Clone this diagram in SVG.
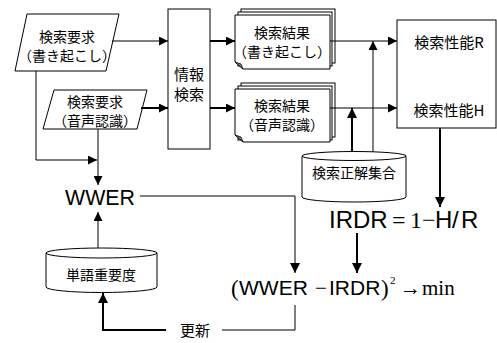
<svg xmlns="http://www.w3.org/2000/svg" width="497" height="343" viewBox="0 0 497 343">
<defs>
<marker id="ah" viewBox="0 0 10 10" refX="10" refY="5" markerWidth="9" markerHeight="9" markerUnits="userSpaceOnUse" orient="auto"><path d="M0,0 L10,5 L0,10 Z" fill="#000"/></marker>
<marker id="ahb" viewBox="0 0 10 10" refX="10" refY="5" markerWidth="10" markerHeight="10" markerUnits="userSpaceOnUse" orient="auto"><path d="M0,0 L10,5 L0,10 Z" fill="#000"/></marker>
</defs>
<style>
.sh{fill:#fff;stroke:#000;stroke-width:1}
.jp{font-family:"Noto Sans CJK JP","Noto Sans",sans-serif;font-size:14px;fill:#000;text-anchor:middle}
.c{fill:none;stroke:#000;stroke-width:1}
.cb{fill:none;stroke:#000;stroke-width:2}
.ar{font-family:"Liberation Sans",Arial,sans-serif;fill:#000}
.tm{font-family:"Liberation Serif","Times New Roman",serif;fill:#000}
</style>
<rect width="497" height="343" fill="#fff"/>
<g id="req1">
<polygon class="sh" points="27,14 119,14 106,71 15,71"/>
<text class="jp" x="67" y="42">検索要求</text>
<text class="jp" x="67" y="61">（書き起こし）</text>
</g>
<g id="req2">
<polygon class="sh" points="54,90 147,90 137,129 43,129"/>
<text class="jp" x="95" y="107">検索要求</text>
<text class="jp" x="95" y="126">（音声認識）</text>
</g>
<g id="search">
<rect class="sh" x="168" y="9" width="42" height="140"/>
<text class="jp" x="189" y="80" style="font-size:15px">情報</text>
<text class="jp" x="189" y="100" style="font-size:15px">検索</text>
</g>
<g id="res1">
<rect class="sh" x="241" y="9" width="94" height="54"/>
<rect class="sh" x="238" y="12" width="94" height="54"/>
<path class="sh" d="M235,15 H330 V69 H243 L235,62 Z"/>
<path d="M235,62 L241,64 L243,69 Z" fill="#888" stroke="#000" stroke-width="0.8"/>
<text class="jp" x="282" y="38">検索結果</text>
<text class="jp" x="282" y="57">（書き起こし）</text>
</g>
<g id="res2">
<rect class="sh" x="241" y="83" width="94" height="54"/>
<rect class="sh" x="238" y="86" width="94" height="54"/>
<path class="sh" d="M235,89 H330 V142 H243 L235,135 Z"/>
<path d="M235,135 L241,137 L243,142 Z" fill="#888" stroke="#000" stroke-width="0.8"/>
<text class="jp" x="282" y="111">検索結果</text>
<text class="jp" x="282" y="130">（音声認識）</text>
</g>
<g id="perf">
<rect class="sh" x="397" y="20" width="99" height="108"/>
<text class="jp" x="449" y="48" style="font-size:15px">検索性能R</text>
<text class="jp" x="449" y="116" style="font-size:15px">検索性能H</text>
</g>
<g id="truth">
<path class="sh" d="M302,156 V197 A52,5 0 0 0 406,197 V156"/>
<ellipse class="sh" cx="354" cy="156" rx="52" ry="4.5"/>
<text class="jp" x="354" y="178">検索正解集合</text>
</g>
<g id="weight">
<path class="sh" d="M46,253 V287 A55.5,5.5 0 0 0 157,287 V253"/>
<ellipse class="sh" cx="101.5" cy="253" rx="55.5" ry="5"/>
<text class="jp" x="101" y="280">単語重要度</text>
</g>
<g id="wwer">
<text class="ar" x="65" y="205" style="font-size:22px" textLength="70" lengthAdjust="spacingAndGlyphs">WWER</text>
</g>
<g id="irdr">
<text class="ar" style="font-size:24px" x="329" y="228">IRDR</text>
<text class="tm" style="font-size:24px" x="392" y="228">=</text>
<text class="tm" style="font-size:24px" x="410" y="228">1</text>
<text class="tm" style="font-size:24px" x="422" y="228">−</text>
<text class="ar" style="font-size:24px" x="435" y="228">H</text>
<text class="ar" style="font-size:24px" x="452" y="228">/</text>
<text class="ar" style="font-size:24px" x="461" y="228">R</text>
</g>
<g id="objective">
<text class="tm" style="font-size:23px" x="231" y="296">(</text>
<text class="ar" style="font-size:21px" x="239" y="295">WWER</text>
<text class="tm" style="font-size:21px" x="315" y="295">−</text>
<text class="ar" style="font-size:21px" x="329" y="295">IRDR</text>
<text class="tm" style="font-size:23px" x="381" y="296">)</text>
<text class="tm" style="font-size:11px" x="390" y="284">2</text>
<text class="tm" style="font-size:21px" x="400" y="295">→</text>
<text class="tm" style="font-size:21px" x="422" y="295">min</text>
</g>
<g id="update">
<text class="jp" x="195" y="336" style="font-size:15px">更新</text>
</g>
<g id="connectors">
<path class="c" d="M112,41 H168" marker-end="url(#ah)"/>
<path class="cb" d="M141,108 H168" marker-end="url(#ah)"/>
<path class="cb" d="M210,41 H235" marker-end="url(#ah)"/>
<path class="cb" d="M210,108 H235" marker-end="url(#ah)"/>
<path class="c" d="M330,41 H397" marker-end="url(#ah)"/>
<path class="c" d="M330,108 H397" marker-end="url(#ah)"/>
<path class="c" d="M373,152 V41" marker-end="url(#ah)"/>
<path class="cb" d="M352,152 V108" marker-end="url(#ahb)"/>
<path class="c" d="M36,71 V160 H97" marker-end="url(#ah)"/>
<path class="c" d="M98,129 V185" marker-end="url(#ah)"/>
<path class="c" d="M98,248 V212" marker-end="url(#ah)"/>
<path class="c" d="M140,196 H295 V273" marker-end="url(#ahb)"/>
<path class="cb" d="M357,233 V273" marker-end="url(#ahb)"/>
<path class="cb" d="M440,128 V207" marker-end="url(#ahb)"/>
<path class="c" d="M295,305 V330 H222"/>
<path class="cb" d="M166,330 H103 V293" marker-end="url(#ahb)"/>
</g>
</svg>
